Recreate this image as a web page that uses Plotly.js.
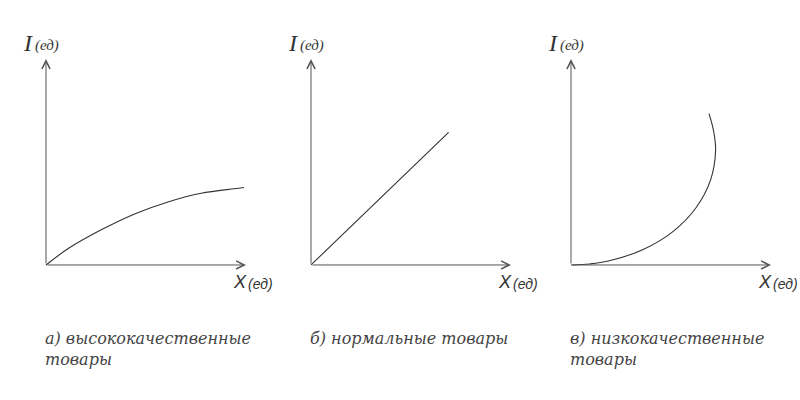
<!DOCTYPE html>
<html>
<head>
<meta charset="utf-8">
<script src="https://cdn.plot.ly/plotly-3.0.1.min.js"></script>
<style>html,body{margin:0;padding:0;background:#fff;}#chart{width:800px;height:400px;}</style>
</head>
<body>
<div id="chart"></div>
<script>
// ---- data ----
const yAxisLabel = 'I';
const xAxisLabel = 'X';
const unitLabel = '(ед)';
const captions = ['а) высококачественные<br>товары', 'б) нормальные товары', 'в) низкокачественные<br>товары'];

const luxuryX = [0, 1.15, 2.81, 4.46, 6.10, 7.76, 9.41, 9.90];
const luxuryY = [0, 0.82, 1.73, 2.49, 3.06, 3.48, 3.70, 3.76];

const normalX = [0, 6.88];
const normalY = [0, 6.44];

const inferiorX = [0, 0.95, 1.87, 3.61, 5.11, 6.26, 6.98, 7.23, 7.12, 6.90];
const inferiorY = [0, 0.05, 0.19, 0.75, 1.63, 2.79, 4.13, 5.58, 6.55, 7.35];

const axisMax = 10;

// ---- build ----
const lineColor = '#555555';
const textColor = '#333333';
const W = 800, H = 400;
const px = v => v / W;
const py = v => 1 - v / H;

const panels = [
  {x: luxuryX, y: luxuryY, left: 45},
  {x: normalX, y: normalY, left: 310},
  {x: inferiorX, y: inferiorY, left: 570}
];
const panelWidth = 202, originY = 266, topY = 58;

const traces = [];
const annotations = [];
const layout = {
  width: W, height: H,
  margin: {l: 0, r: 0, t: 0, b: 0},
  paper_bgcolor: '#ffffff', plot_bgcolor: 'rgba(0,0,0,0)',
  showlegend: false,
  annotations: annotations
};

panels.forEach((p, i) => {
  const n = i === 0 ? '' : String(i + 1);
  const xa = 'x' + n, ya = 'y' + n;
  const axStyle = {
    showgrid: false, zeroline: false, showline: false, showticklabels: false,
    ticks: '', fixedrange: true
  };
  layout['xaxis' + n] = Object.assign({}, axStyle, {
    domain: [px(p.left), px(p.left + panelWidth)], range: [-0.05, axisMax + 0.05], anchor: ya
  });
  layout['yaxis' + n] = Object.assign({}, axStyle, {
    domain: [py(originY), py(topY)], range: [-0.05, axisMax + 0.05], anchor: xa
  });
  traces.push({
    type: 'scatter', mode: 'lines', x: p.x, y: p.y, xaxis: xa, yaxis: ya,
    line: {color: '#333333', width: 1.1, shape: 'spline', smoothing: 1},
    hoverinfo: 'skip'
  });
  // axes with arrowheads
  annotations.push({
    xref: xa, yref: ya, axref: xa, ayref: ya,
    x: axisMax, y: 0, ax: 0, ay: 0, text: '', showarrow: true,
    arrowhead: 5, arrowsize: 1.6, arrowwidth: 1, arrowcolor: lineColor
  });
  annotations.push({
    xref: xa, yref: ya, axref: xa, ayref: ya,
    x: 0, y: axisMax, ax: 0, ay: 0, text: '', showarrow: true,
    arrowhead: 5, arrowsize: 1.6, arrowwidth: 1, arrowcolor: lineColor
  });
  // y label
  annotations.push({
    xref: 'paper', yref: 'paper', x: px(p.left - 24), y: py(43),
    xanchor: 'left', yanchor: 'middle', showarrow: false,
    text: '<i>' + yAxisLabel + '</i>',
    font: {family: 'Liberation Serif, serif', size: 24, color: textColor}
  });
  annotations.push({
    xref: 'paper', yref: 'paper', x: px(p.left - 12), y: py(45),
    xanchor: 'left', yanchor: 'middle', showarrow: false,
    text: '<i>' + unitLabel + '</i>',
    font: {family: 'Liberation Serif, serif', size: 15, color: textColor}
  });
  // x label
  annotations.push({
    xref: 'paper', yref: 'paper', x: px(p.left + panelWidth - 16), y: py(282),
    xanchor: 'left', yanchor: 'middle', showarrow: false,
    text: '<i>' + xAxisLabel + '</i>',
    font: {family: 'Liberation Sans, sans-serif', size: 18, color: textColor}
  });
  annotations.push({
    xref: 'paper', yref: 'paper', x: px(p.left + panelWidth - 1), y: py(284),
    xanchor: 'left', yanchor: 'middle', showarrow: false,
    text: '<i>' + unitLabel + '</i>',
    font: {family: 'Liberation Sans, sans-serif', size: 14, color: textColor}
  });
  // caption
  annotations.push({
    xref: 'paper', yref: 'paper', x: px(p.left - 2), y: py(327),
    xanchor: 'left', yanchor: 'top', align: 'left', showarrow: false,
    text: '<i>' + captions[i] + '</i>',
    font: {family: 'DejaVu Serif, serif', size: 16, color: '#444444'}
  });
});

Plotly.newPlot('chart', traces, layout, {staticPlot: true, displayModeBar: false});
</script>
</body>
</html>
